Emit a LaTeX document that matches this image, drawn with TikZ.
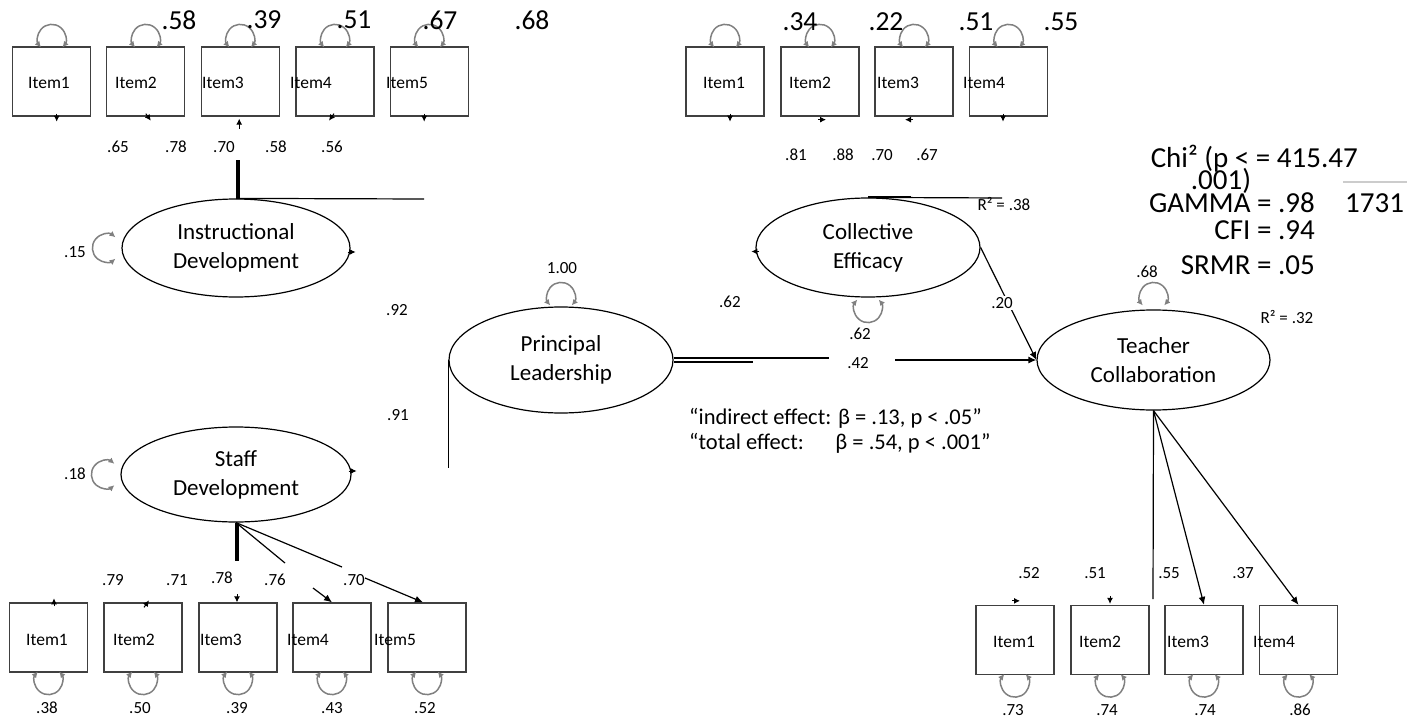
\documentclass[tikz,border=0pt]{standalone}
\usepackage{fontspec}
\setmainfont{Carlito}
\usetikzlibrary{arrows.meta,shapes.geometric}

% residual loop: point, rotation, distance of centre from the point
\newcommand{\errloop}[3]{%
  \draw[resid, shift={(#1)}, rotate=#2] (10.72,-#3+9) arc[start angle=40, end angle=-220, radius=14];}

\begin{document}
\begin{tikzpicture}[x=1pt, y=-1pt,
  itembox/.style={draw=black!75, line width=1.3, minimum width=78, minimum height=69, inner sep=0},
  itemtxt/.style={anchor=west, inner sep=0, font=\fontsize{17.5}{21}\selectfont},
  latent/.style={draw, ellipse, line width=1.2, align=center, inner sep=0, font=\fontsize{23}{29}\selectfont},
  num/.style={inner sep=1, font=\fontsize{17}{20}\selectfont},
  bignum/.style={inner sep=0, font=\fontsize{27.5}{32}\selectfont},
  gof/.style={inner sep=0, font=\fontsize{29}{32}\selectfont},
  effect/.style={anchor=west, inner sep=0, font=\fontsize{22.5}{27}\selectfont},
  ln/.style={line width=1.2},
  thickln/.style={line width=4},
  arr/.style={line width=1.2, -{Latex[length=8,width=7]}},
  stub/.style={line width=1, -{Latex[length=6,width=6]}},
  resid/.style={black!50, line width=1.5, {Latex[length=6,width=6]}-{Latex[length=6,width=6]}}]
\fill[white] (0,0) rectangle (1407,722);
\useasboundingbox (0,0) rectangle (1407,722);

% instructional development items
\foreach \n/\x/\t in {1/51.7/28, 2/145.8/115, 3/240.2/202, 4/335/290, 5/429.2/386} {
  \node[itembox] (idi\n) at (\x,81.5) {};
  \node[itemtxt] (idt\n) at (\t,83) {Item\n};
  \errloop{idi\n.north}{0}{8}
}
\foreach \v/\x in {.58/179, .39/264, .51/354, .67/440, .68/532}
  \node[bignum] (idv\x) at (\x,20) {\v};
\foreach \v/\x in {.65/118, .78/176, .70/224, .58/276, .56/332}
  \node[num] (idl\x) at (\x,147) {\v};
\draw[stub] (idi1.south) ++(5,-3) -- ++(0,8);
\draw[stub] (idi2.south) ++(0,-3) -- ++(5,7);
\draw[stub] (idi3.south) ++(-1,12) -- ++(0,-10);
\draw[stub] (idi4.south) ++(-1,-3) -- ++(-5,7);
\draw[stub] (idi5.south) ++(-5,-3) -- ++(0,8);

\node[latent, minimum width=228, minimum height=98] (ins) at (236,248) {Instructional\\Development};
\errloop{ins.west}{90}{15}
\node[num] (insv) at (75,252) {.15};
\draw[thickln] (ins.north) ++(2,0) -- ++(0,-38);
\coordinate (insend) at (424,199);
\draw[ln] (ins.north) -- (insend);
\draw[stub] (ins.east) ++(-3,4) -- ++(8,0);

\node[num] (l92) at (397,310) {.92};
\node[num] (l91) at (398,415) {.91};

% staff development
\node[latent, minimum width=230, minimum height=95] (stf) at (236,474.5) {Staff\\Development};
\errloop{stf.west}{90}{15}
\node[num] (stfv) at (75,474) {.18};
\draw[stub] (stf.east) ++(-3,-3.5) -- ++(8,0);

\foreach \n/\x/\t in {1/48.5/26, 2/143/113, 3/238/200, 4/332/287, 5/427/374} {
  \node[itembox] (sdi\n) at (\x,637.5) {};
  \node[itemtxt] (sdt\n) at (\t,640) {Item\n};
  \errloop{sdi\n.south}{180}{8}
}
\foreach \v/\x in {.38/47, .50/140, .39/237, .43/332, .52/425}
  \node[num] (sdv\x) at (\x,708) {\v};
\foreach \v/\x/\y in {.79/113/580, .71/177/580, .78/222/578, .76/275/580, .70/354/580}
  \node[num] (sdl\x) at (\x,\y) {\v};
\coordinate (sd4a) at (285,563);
\coordinate (sd5a) at (342,567);
\coordinate (sd4b) at (313,588);
\coordinate (sd5b) at (365,578);
\draw[thickln] (stf.south) ++(1,0) -- ++(0,38);
\draw[ln] (stf.south) -- (sd4a);
\draw[ln] (stf.south) -- (sd5a);
\draw[stub] (sdi1.north) ++(5.5,4) -- ++(0,-8);
\draw[stub] (sdi2.north) ++(1,5) -- ++(5,-7);
\draw[stub] (sdi3.north) ++(-1,-8) -- ++(0,8);
\draw[arr] (sd4b) -- (sdi4.north);
\draw[arr] (sd5b) -- ([xshift=-4]sdi5.north);

% principal leadership
\node[latent, minimum width=224, minimum height=106] (pl) at (561,360) {Principal\\Leadership};
\errloop{pl.north}{0}{10}
\node[num] (plv) at (562,268) {1.00};
\draw[ln] (pl.west) -- ++(0,108);
\draw[ln] (pl.east) ++(0,-2) -- ++(79,0);
\draw[ln] (pl.east) ++(0,2) -- ++(79,0);
\draw[line width=2] (pl.east) ++(79,-2) -- ++(76,0);
\node[num] (l42) at (858,363) {.42};
\coordinate (plarr) at (895,360);
\node[num, anchor=west] (l62a) at (718,302) {.62};
\node[effect] (ind) at (689,418) {“indirect effect: β = .13, p < .05”};
\node[effect] (tot) at (689,443) {“total effect:\hspace{1.1em} β = .54, p < .001”};

% collective efficacy
\foreach \n/\x/\t in {1/725/703, 2/820/789, 3/914/877, 4/1008.5/963} {
  \node[itembox] (cei\n) at (\x,81.5) {};
  \node[itemtxt] (cet\n) at (\t,83) {Item\n};
  \errloop{cei\n.north}{0}{8}
}
\foreach \v/\x in {.34/800, .22/886, .51/976, .55/1061}
  \node[bignum] (cev\x) at (\x,22) {\v};
\foreach \v/\x in {.81/796, .88/843, .70/882, .67/927}
  \node[num] (cel\x) at (\x,155) {\v};
\draw[stub] (cei1.south) ++(5,-3) -- ++(0,8);
\draw[stub] (cei2.south) ++(-2,3) -- ++(8,0);
\draw[stub] (cei3.south) ++(-1,3) -- ++(-8,0);
\draw[stub] (cei4.south) ++(-5.5,-3) -- ++(0,8);

\node[latent, minimum width=224, minimum height=99] (ce) at (868,247.5) {Collective\\Efficacy};
\errloop{ce.south}{180}{11}
\node[num] (l62b) at (860,334) {.62};
\coordinate (ceend) at (1002,198);
\draw[ln] (ce.north) -- (ceend);
\draw[line width=2] (ce.north) -- ++(43,0);
\node[num] (r38) at (1004,204) {R² = .38};
\draw[stub] (ce.west) ++(4,4) -- ++(-8,0);

% teacher collaboration
\node[latent, minimum width=233, minimum height=100] (tc) at (1153.5,360) {Teacher\\Collaboration};
\errloop{tc.north}{0}{13}
\node[num] (tcv) at (1147,272) {.68};
\node[num] (r32) at (1287,317) {R² = .32};
\draw[arr] (ce.east) -- (tc.west);
\node[num, fill=white] (l20) at (1002,303) {.20};
\draw[arr] (plarr) -- (tc.west);

\foreach \n/\x/\t in {1/1015/993, 2/1110/1079, 3/1204/1167, 4/1298.5/1253} {
  \node[itembox] (tci\n) at (\x,640) {};
  \node[itemtxt] (tct\n) at (\t,642) {Item\n};
  \errloop{tci\n.south}{180}{8}
}
\foreach \v/\x in {.73/1013, .74/1107, .74/1205, .86/1300}
  \node[num] (tcv\x) at (\x,710) {\v};
\foreach \v/\x in {.52/1029, .51/1095, .55/1169, .37/1243}
  \node[num] (tcl\x) at (\x,573) {\v};
\coordinate (tcend) at (1153,599);
\draw[ln] (tc.south) -- (tcend);
\draw[arr] (tc.south) -- (tci3.north);
\draw[arr] (tc.south) -- (tci4.north);
\draw[stub] (tci1.north) ++(-3,-4) -- ++(8,0);
\draw[stub] (tci2.north) ++(0,-9) -- ++(0,8);

% fit indices
\node[gof, anchor=base east] (chi) at (1358,167.5) {Chi² (p < = 415.47};
\node[gof, anchor=base] (pval) at (1221,189.5) {.001)};
\node[gof, anchor=base east] (gam) at (1315,212.5) {GAMMA = .98};
\node[gof, anchor=base east] (cfi) at (1315,239.5) {CFI = .94};
\node[gof, anchor=base east] (srmr) at (1315,274.5) {SRMR = .05};
\node[gof, anchor=base west] (dfv) at (1345,212.5) {1731};
\coordinate (rulea) at (1343,182);
\coordinate (ruleb) at (1407,182);
\draw[black!20, line width=1.5] (rulea) -- (ruleb);
\end{tikzpicture}
\end{document}
